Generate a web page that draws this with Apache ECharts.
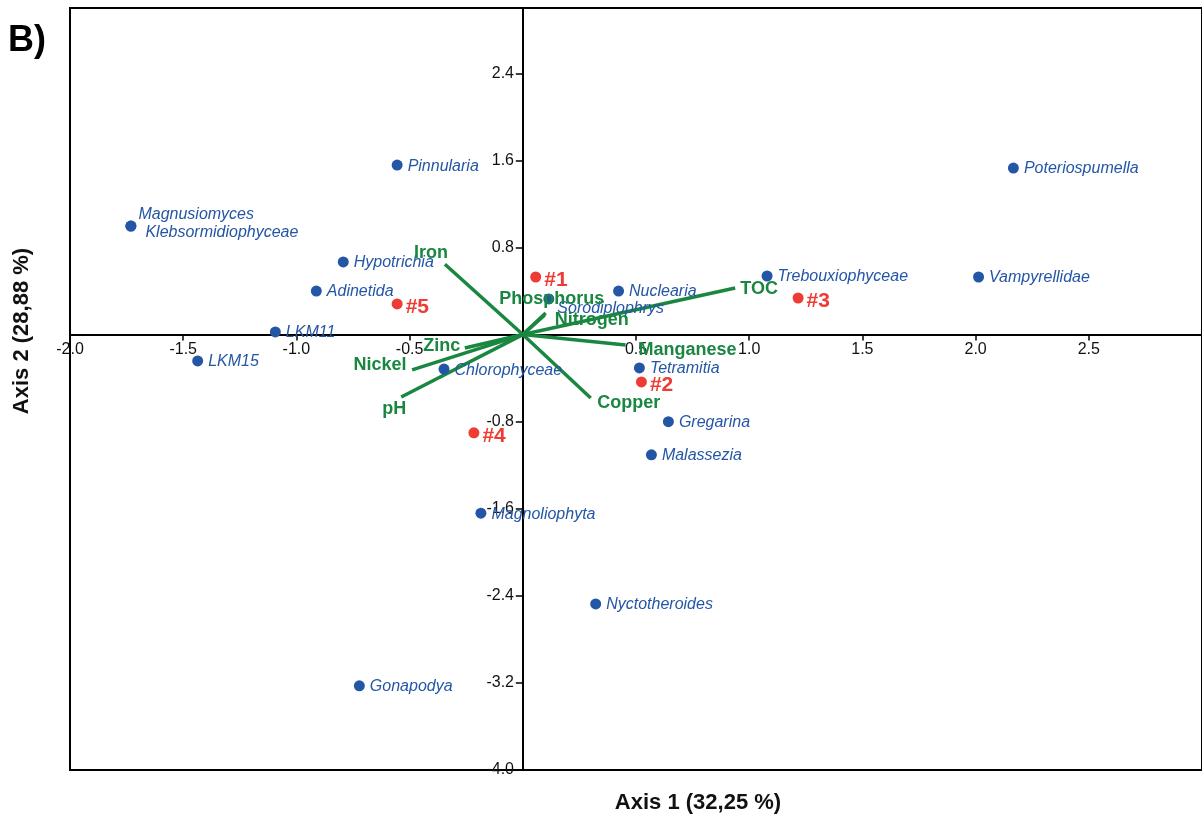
<!DOCTYPE html>
<html><head><meta charset="utf-8">
<script src="https://cdn.jsdelivr.net/npm/echarts@6/dist/echarts.min.js"></script>
<style>html,body{margin:0;padding:0;background:#fff}#c{width:1202px;height:819px}</style>
</head><body><div id="c"></div>
<script>
// ---- data ----
const speciesNames = ['Pinnularia','Magnusiomyces','Klebsormidiophyceae','Hypotrichia','Adinetida','LKM11','LKM15','Chlorophyceae','Magnoliophyta','Gonapodya','Nyctotheroides','Malassezia','Gregarina','Tetramitia','Sorodiplophrys','Nuclearia','Trebouxiophyceae','Vampyrellidae','Poteriospumella'];
const speciesX = [-0.555,-1.731,-1.731,-0.793,-0.912,-1.093,-1.436,-0.348,-0.185,-0.722,0.322,0.568,0.643,0.515,0.115,0.423,1.079,2.013,2.167];
const speciesY = [1.557,0.997,0.997,0.667,0.400,0.024,-0.242,-0.317,-1.641,-3.227,-2.474,-1.105,-0.800,-0.306,0.327,0.400,0.538,0.529,1.530];
const siteNames = ['#1','#2','#3','#4','#5'];
const siteX = [0.057,0.524,1.216,-0.216,-0.555];
const siteY = [0.529,-0.435,0.336,-0.903,0.281];
const envNames = ['Iron','Phosphorus','Nitrogen','TOC','Manganese','Copper','Zinc','Nickel','pH'];
const envX = [-0.344,0.101,0.097,0.938,0.454,0.300,-0.256,-0.489,-0.537];
const envY = [0.646,0.198,0.180,0.428,-0.095,-0.582,-0.123,-0.325,-0.573];
const xTicks = [-2.0,-1.5,-1.0,-0.5,0.5,1.0,1.5,2.0,2.5];
const yTicks = [-4.0,-3.2,-2.4,-1.6,-0.8,0.8,1.6,2.4];
const xTitle = 'Axis 1 (32,25 %)';
const yTitle = 'Axis 2 (28,88 %)';
const panelTag = 'B)';

// ---- styles ----
const FONT = "'Liberation Sans', Arial, Helvetica, sans-serif";
const BLUE = '#2456a6', RED = '#ee3b33', GREEN = '#1a8741';
const speciesLabelOffset = {Magnusiomyces:[-3,-11], Klebsormidiophyceae:[4,7], Sorodiplophrys:[-2,10]};
const envLabelOffset = {Iron:[-14,-11], Phosphorus:[6,-14], Nitrogen:[47,5], TOC:[24,1], Manganese:[62,5], Copper:[38,5], Zinc:[-23,-2], Nickel:[-32,-5], pH:[-7,12]};

const W = 1202, H = 819;
const G = {left:70, right:-3, top:8, bottom:49};
const X0 = -2, X1 = 3, Y0 = -4, Y1 = 3;
// distance of the zero lines from the grid edges (labels sit next to the zero lines)
const plotW = W - G.left - G.right, plotH = H - G.top - G.bottom;
const xZeroFromLeft = (0 - X0) / (X1 - X0) * plotW;
const yZeroFromBottom = (0 - Y0) / (Y1 - Y0) * plotH;

const chart = echarts.init(document.getElementById('c'), null, {renderer:'canvas'});
const fmt = v => Number(v).toFixed(1);

chart.setOption({
  animation:false,
  backgroundColor:'#fff',
  grid:Object.assign({show:true, borderColor:'#000', borderWidth:2, backgroundColor:'transparent'}, G),
  xAxis:{type:'value', min:X0, max:X1, interval:0.5,
    axisLine:{onZero:true, lineStyle:{color:'#000', width:2}},
    axisTick:{show:true, length:6, customValues:xTicks, lineStyle:{color:'#000', width:1.5}},
    axisLabel:{customValues:xTicks, formatter:fmt, margin:7 - yZeroFromBottom, fontSize:16, color:'#111', fontFamily:FONT},
    splitLine:{show:false}},
  yAxis:{type:'value', min:Y0, max:Y1, interval:0.8,
    axisLine:{onZero:true, lineStyle:{color:'#000', width:2}},
    axisTick:{show:true, length:7, customValues:yTicks, lineStyle:{color:'#000', width:1.5}},
    axisLabel:{customValues:yTicks, formatter:fmt, margin:10 - xZeroFromLeft, fontSize:16, color:'#111', fontFamily:FONT},
    splitLine:{show:false}},
  graphic:[
    {type:'text', left:8, top:23, style:{text:panelTag, font:"bold 36px "+FONT, fill:'#000'}},
    {type:'text', x:698, y:803, style:{text:xTitle, font:"bold 22px "+FONT, fill:'#111', align:'center', verticalAlign:'middle'}},
    {type:'text', x:22, y:331, rotation:Math.PI/2, style:{text:yTitle, font:"bold 22px "+FONT, fill:'#111', align:'center', verticalAlign:'middle'}}
  ],
  series:[
    {type:'lines', coordinateSystem:'cartesian2d', z:3, silent:true,
      lineStyle:{color:GREEN, width:3.5, opacity:1},
      data: envNames.map((n,i)=>({name:n, coords:[[0,0],[envX[i],envY[i]]]}))},
    {type:'scatter', z:4, symbolSize:11, itemStyle:{color:BLUE, opacity:1},
      data: speciesNames.map((n,i)=>({name:n, value:[speciesX[i],speciesY[i]],
        label:{offset: speciesLabelOffset[n] || [0,1]}})),
      label:{show:true, position:'right', distance:5, formatter:p=>p.name, color:BLUE, opacity:1, fontStyle:'italic', fontSize:16, fontFamily:FONT}},
    {type:'scatter', z:5, symbolSize:11, itemStyle:{color:RED, opacity:1},
      data: siteNames.map((n,i)=>({name:n, value:[siteX[i],siteY[i]]})),
      label:{show:true, position:'right', distance:3, offset:[0,3], formatter:p=>p.name, color:RED, opacity:1, fontWeight:'bold', fontSize:21, fontFamily:FONT}},
    {type:'scatter', z:6, symbolSize:1, itemStyle:{color:'transparent', opacity:1}, silent:true,
      data: envNames.map((n,i)=>({name:n, value:[envX[i],envY[i]], label:{offset: envLabelOffset[n]}})),
      label:{show:true, position:'inside', formatter:p=>p.name, color:GREEN, opacity:1, fontWeight:'bold', fontSize:18, fontFamily:FONT}}
  ]
});
</script></body></html>
